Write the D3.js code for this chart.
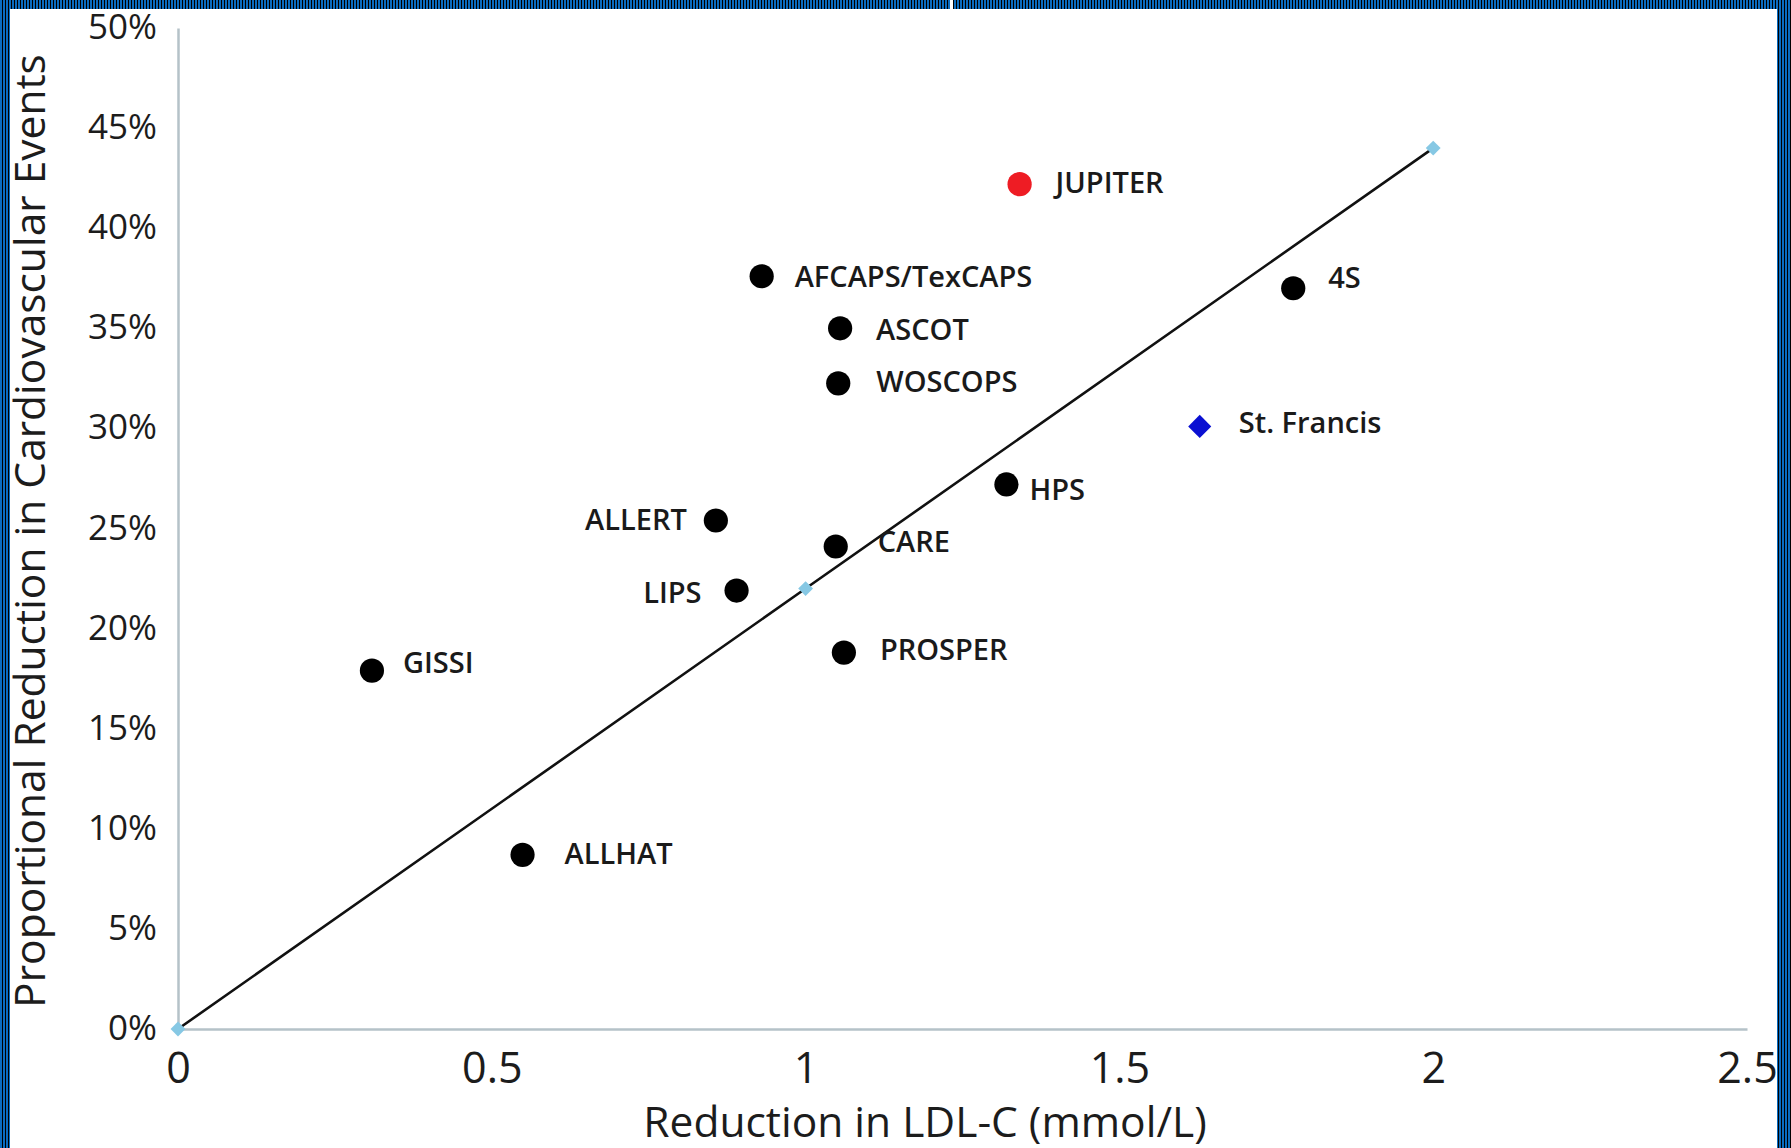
<!DOCTYPE html>
<html><head><meta charset="utf-8">
<script src="https://cdn.jsdelivr.net/npm/d3@7"></script>
<style>html,body{margin:0;padding:0;background:#fff;overflow:hidden}</style>
</head><body><svg id="chart" width="1791" height="1148"></svg>
<script>
// ---------------- data ----------------
const studies = ["JUPITER","AFCAPS/TexCAPS","ASCOT","WOSCOPS","4S","St. Francis","HPS","ALLERT","CARE","LIPS","PROSPER","GISSI","ALLHAT"];
const ldlReduction = [1.341,0.930,1.055,1.052,1.777,1.628,1.320,0.857,1.048,0.890,1.061,0.309,0.549];
const eventReduction = [42.2,37.6,35.0,32.25,37.0,30.1,27.2,25.4,24.1,21.9,18.8,17.9,8.7];
const studyType = ["jupiter","trial","trial","trial","trial","stfrancis","trial","trial","trial","trial","trial","trial","trial"];
const fitLdl = [0,1,2];
const fitEvents = [0,22,44];
const xTickValues = [0,0.5,1,1.5,2,2.5];
const xTickLabels = ["0","0.5","1","1.5","2","2.5"];
const yTickValues = [0,5,10,15,20,25,30,35,40,45,50];
const yTickLabels = ["0%","5%","10%","15%","20%","25%","30%","35%","40%","45%","50%"];
const xTitle = "Reduction in LDL-C (mmol/L)";
const yTitle = "Proportional Reduction in Cardiovascular Events";

// ---------------- layout / style ----------------
const W = 1791, H = 1148;
const labelPlacement = {
  "JUPITER":{dx:36,dy:-1.5,anchor:"start"},
  "AFCAPS/TexCAPS":{dx:33,dy:1,anchor:"start"},
  "ASCOT":{dx:36,dy:2,anchor:"start"},
  "WOSCOPS":{dx:38,dy:-2,anchor:"start"},
  "4S":{dx:35,dy:-10,anchor:"start"},
  "St. Francis":{dx:39,dy:-4,anchor:"start"},
  "HPS":{dx:23,dy:5,anchor:"start"},
  "ALLERT":{dx:-29,dy:-1,anchor:"end"},
  "CARE":{dx:42,dy:-5,anchor:"start"},
  "LIPS":{dx:-35,dy:2.5,anchor:"end"},
  "PROSPER":{dx:36,dy:-3,anchor:"start"},
  "GISSI":{dx:31,dy:-7.5,anchor:"start"},
  "ALLHAT":{dx:42,dy:-1,anchor:"start"}
};
const typeColor = {trial:"#000000", jupiter:"#ee1c24", stfrancis:"#0a10d2"};
const axisColor = "#b5c2c8";
const font = "'Open Sans', 'DejaVu Sans', sans-serif";

const svg = d3.select("#chart");
svg.append("rect").attr("width",W).attr("height",H).attr("fill","#fff");

const x = d3.scaleLinear().domain([0,2.5]).range([178,1747]);
const y = d3.scaleLinear().domain([0,50]).range([1029,28]);

// axes
const xAxis = d3.axisBottom(x).tickValues(xTickValues)
  .tickFormat((d,i)=>xTickLabels[i]).tickSize(0).tickPadding(23);
const gx = svg.append("g").attr("transform",`translate(0,${y(0)})`).call(xAxis);
gx.select(".domain").attr("stroke",axisColor).attr("stroke-width",2.5);
gx.selectAll("text").attr("font-family",font).attr("font-size",43).attr("fill","#1c1c1c");

const yAxis = d3.axisLeft(y).tickValues(yTickValues)
  .tickFormat((d,i)=>yTickLabels[i]).tickSize(0).tickPadding(21);
const gy = svg.append("g").attr("transform",`translate(${x(0)},0)`).call(yAxis);
gy.select(".domain").attr("stroke",axisColor).attr("stroke-width",2.5);
gy.selectAll("text").attr("font-family",font).attr("font-size",35).attr("fill","#1c1c1c").attr("dy","0.30em");

// titles
svg.append("text").attr("x",925).attr("y",1137).attr("text-anchor","middle")
  .attr("font-family",font).attr("font-size",42.5).attr("fill","#1c1c1c").text(xTitle);
svg.append("text").attr("transform","translate(45,531) rotate(-90)").attr("text-anchor","middle")
  .attr("font-family",font).attr("font-size",42.5).attr("fill","#1c1c1c").text(yTitle);

// regression line
const fit = fitLdl.map((v,i)=>({x:v,y:fitEvents[i]}));
svg.append("path").datum(fit)
  .attr("d",d3.line().x(d=>x(d.x)).y(d=>y(d.y)))
  .attr("fill","none").attr("stroke","#111").attr("stroke-width",2.6);
svg.selectAll(".fitpt").data(fit).enter().append("path")
  .attr("d",d3.symbol(d3.symbolSquare,110)())
  .attr("transform",d=>`translate(${x(d.x)},${y(d.y)}) rotate(45)`)
  .attr("fill","#86c8e4");

// points
const pts = studies.map((s,i)=>({name:s,x:ldlReduction[i],y:eventReduction[i],type:studyType[i]}));
svg.selectAll(".pt").data(pts).enter().append("path")
  .attr("d",d=>d.type==="stfrancis" ? d3.symbol(d3.symbolDiamond2 ? d3.symbolDiamond2 : d3.symbolDiamond, 340)() : d3.symbol(d3.symbolCircle, 460)())
  .attr("transform",d=>`translate(${x(d.x)},${y(d.y)})`)
  .attr("fill",d=>typeColor[d.type]);

svg.selectAll(".lbl").data(pts).enter().append("text")
  .attr("x",d=>x(d.x)+labelPlacement[d.name].dx)
  .attr("y",d=>y(d.y)+labelPlacement[d.name].dy)
  .attr("dy","0.35em")
  .attr("text-anchor",d=>labelPlacement[d.name].anchor)
  .attr("font-family",font).attr("font-size",29).attr("font-weight",600)
  .attr("fill","#1a1a1a").text(d=>d.name);

// striped frame
const defs = svg.append("defs");
const pat = defs.append("pattern").attr("id","stripes").attr("patternUnits","userSpaceOnUse")
  .attr("width",3).attr("height",3);
pat.append("rect").attr("width",3).attr("height",3).attr("fill","#0b6cc0");
pat.append("rect").attr("x",2).attr("width",1).attr("height",3).attr("fill","#000");
svg.append("path")
  .attr("d",`M0,0H${W}V${H}H0Z M10,9V${H}H1777V9Z`)
  .attr("fill-rule","evenodd").attr("fill","url(#stripes)");
svg.append("rect").attr("x",950).attr("y",0).attr("width",3).attr("height",9).attr("fill","#fff");
</script></body></html>
